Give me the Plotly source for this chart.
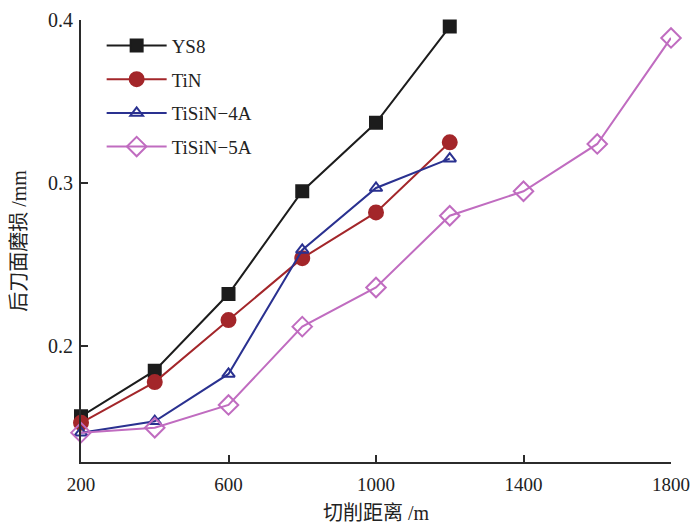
import plotly.graph_objects as go

# Cutting distance (m) and flank wear (mm) for each tool coating
distance = [200, 400, 600, 800, 1000, 1200, 1400, 1600, 1800]
ys8 = [0.157, 0.185, 0.232, 0.295, 0.337, 0.396]
tin = [0.153, 0.178, 0.216, 0.254, 0.282, 0.325]
tisin_4a = [0.147, 0.154, 0.183, 0.259, 0.297, 0.315]
tisin_5a = [0.147, 0.150, 0.164, 0.212, 0.236, 0.280, 0.295, 0.324, 0.389]

series_names = ["YS8", "TiN", "TiSiN\u22124A", "TiSiN\u22125A"]
x_ticks = [200, 600, 1000, 1400, 1800]
y_ticks = [0.2, 0.3, 0.4]

FONT = "Liberation Serif, Times New Roman, Noto Sans CJK SC, serif"

styles = [
    dict(color="#1c1c1c", symbol="square", size=12),
    dict(color="#a3262a", symbol="circle", size=14),
    dict(color="#2a3190", symbol="triangle-up-open", size=11),
    dict(color="#c06cc0", symbol="diamond-open", size=15),
]

fig = go.Figure()
for name, ys, st in zip(series_names, [ys8, tin, tisin_4a, tisin_5a], styles):
    fig.add_trace(go.Scatter(
        x=distance[:len(ys)], y=ys, name=name, legendgroup=name,
        mode="lines+markers", cliponaxis=False,
        line=dict(color=st["color"], width=2),
        marker=dict(symbol=st["symbol"], size=st["size"], color=st["color"],
                    line=dict(color=st["color"], width=2)),
    ))

axis_common = dict(
    showgrid=False, zeroline=False, showline=True, linecolor="#2b2b2b",
    linewidth=2, ticks="inside", ticklen=7, tickwidth=2, tickcolor="#2b2b2b",
    automargin=False, ticklabeloverflow="allow",
)

fig.update_layout(
    width=692, height=526,
    margin=dict(l=81, r=21, t=20, b=64),
    paper_bgcolor="white", plot_bgcolor="white",
    font=dict(family=FONT, color="#222"),
    xaxis=dict(range=[200, 1800], tickvals=x_ticks, ticklabelstandoff=4,
               tickfont=dict(family=FONT, size=19, color="#222"),
               title=dict(text="切削距离 /m", font=dict(family=FONT, size=20), standoff=12),
               **axis_common),
    yaxis=dict(range=[0.129, 0.4], tickvals=y_ticks, tickformat=".1f",
               ticklabelstandoff=2,
               tickfont=dict(family=FONT, size=20, color="#222"),
               title=dict(text="后刀面磨损 /mm", font=dict(family=FONT, size=20), standoff=16),
               **axis_common),
    legend=dict(x=0.035, y=0.985, xanchor="left", yanchor="top",
                font=dict(family=FONT, size=19, color="#222"),
                bgcolor="rgba(0,0,0,0)", itemwidth=60, tracegroupgap=6),
    showlegend=True,
)

fig.write_html("out.html")
